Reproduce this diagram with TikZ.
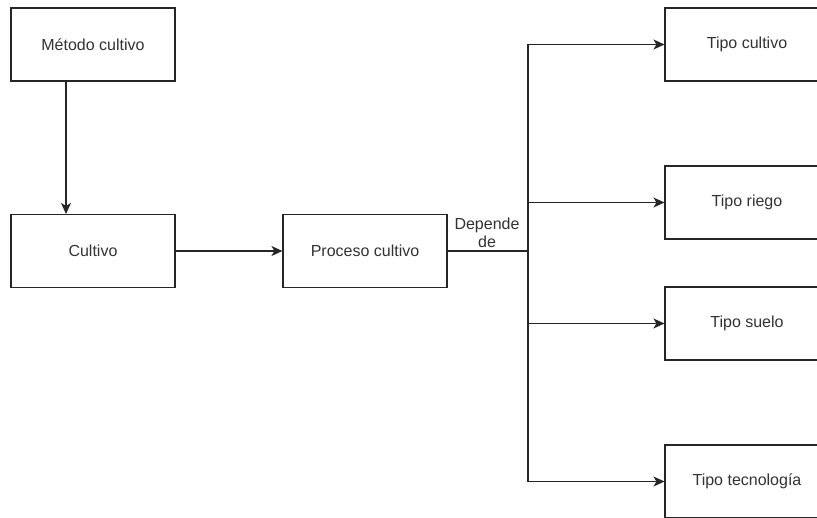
\documentclass[tikz,border=0pt]{standalone}
\usepackage{fontspec}
\setmainfont{Liberation Sans}
\usetikzlibrary{arrows.meta}
\begin{document}
\begin{tikzpicture}[x=1pt,y=-1pt,
  box/.style={draw=black!85,line width=1.1pt,minimum width=164pt,minimum height=73pt,
    inner sep=0pt,font=\fontsize{16}{18}\selectfont,text=black!80},
  link/.style={draw=black!85,line width=1.1pt},
  arr/.style={link,-{Stealth[length=11pt,width=10pt,inset=3pt]}},
  lbl/.style={font=\fontsize{16}{18}\selectfont,text=black!80,align=center,inner sep=0pt}]
  \useasboundingbox (0,0) rectangle (817,517);
  \clip (0,0) rectangle (817,517);
  \fill[white] (0,0) rectangle (817,517);

  % left column and the process box
  \node[box] (met) at (93,44.5) {Método cultivo};
  \node[box] (cul) at (93,251) {Cultivo};
  \node[box] (pro) at (365,251) {Proceso cultivo};

  % right column, cut by the right edge
  \node[box] (tcu) at (747,44.5) {Tipo cultivo};
  \node[box] (tri) at (747,202.5) {Tipo riego};
  \node[box] (tsu) at (747,323.5) {Tipo suelo};
  \node[box] (tte) at (747,481.5) {Tipo tecnología};

  % junction of the branching connector
  \coordinate (j) at (528,251);

  \draw[arr] ([xshift=-27pt]met.south) -- ([xshift=-27pt]cul.north);
  \draw[arr] (cul.east) -- (pro.west);
  \draw[link] (pro.east) -- (j);
  \node[lbl] (dep) at (487,233) {Depende\\de};

  \draw[arr] (j) |- (tcu.west);
  \draw[arr] (j) |- (tri.west);
  \draw[arr] (j) |- (tsu.west);
  \draw[arr] (j) |- (tte.west);
\end{tikzpicture}
\end{document}
